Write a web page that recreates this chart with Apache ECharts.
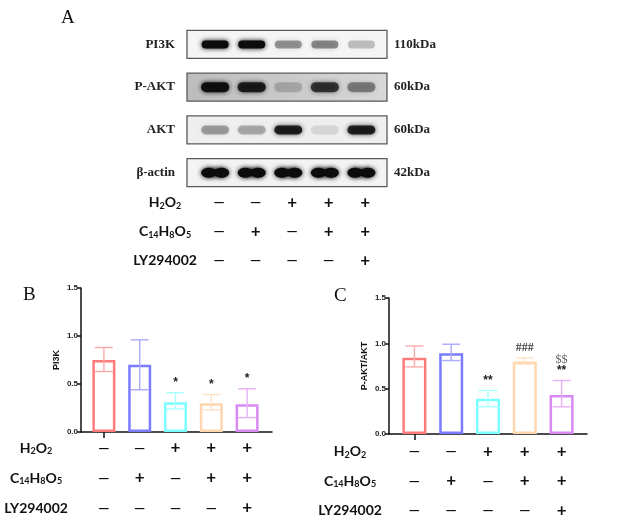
<!DOCTYPE html>
<html>
<head>
<meta charset="utf-8">
<title>PI3K / P-AKT western blot</title>
<script src="https://cdn.jsdelivr.net/npm/echarts@6.0.0/dist/echarts.min.js"></script>
<style>
    html, body { margin: 0; padding: 0; background: #fff; }
    #chart { width: 620px; height: 526px; }
</style>
</head>
<body>
<div id="chart"></div>
<script>
    // ---- data ----
    var lanes = [0, 1, 2, 3, 4];
    var proteins = ['PI3K', 'P-AKT', 'AKT', 'β-actin'];
    var kdaLabels = ['110kDa', '60kDa', '60kDa', '42kDa'];
    // band darkness per lane (0 = none, 1 = black)
    var bandPI3K = [1.0, 1.0, 0.38, 0.42, 0.22];
    var bandPAKT = [0.95, 0.85, 0.18, 0.72, 0.4];
    var bandAKT = [0.33, 0.28, 0.85, 0.1, 0.85];
    var bandActin = [1.0, 1.0, 1.0, 1.0, 1.0];

    var groups = ['Control', 'C14H8O5', 'H2O2', 'H2O2+C14H8O5', 'H2O2+C14H8O5+LY294002'];
    var treatments = ['H2O2', 'C14H8O5', 'LY294002'];
    var signH2O2 = ['—', '—', '+', '+', '+'];
    var signC14 = ['—', '+', '—', '+', '+'];
    var signLY = ['—', '—', '—', '—', '+'];

    var pi3kMean = [0.75, 0.70, 0.31, 0.30, 0.29];
    var pi3kLow = [0.63, 0.44, 0.24, 0.23, 0.15];
    var pi3kHigh = [0.88, 0.96, 0.41, 0.39, 0.45];
    var pi3kSig = ['', '', '*', '*', '*'];

    var paktMean = [0.84, 0.89, 0.39, 0.80, 0.43];
    var paktLow = [0.74, 0.81, 0.30, 0.77, 0.30];
    var paktHigh = [0.97, 0.99, 0.48, 0.84, 0.59];
    var paktSig = ['', '', '**', '###', '**'];
    var paktSig2 = ['', '', '', '', '$$'];

    // ---- styles ----
    var barColors = ['#ff7b7b', '#7b7bff', '#7bffff', '#ffd6ae', '#d98af2'];
    var errColors = ['#ffaaaa', '#aaaaff', '#a8ffff', '#ffe2c6', '#e6b0f7'];
    var bandW = [27, 28, 28, 26];
    var bandH = [8, 10, 9, 10];
    var boxFill = [
        '#f5f5f5',
        new echarts.graphic.LinearGradient(0, 0, 1, 0, [{offset: 0, color: '#bcbcbc'}, {offset: 1, color: '#d8d8d8'}]),
        '#efefef',
        '#f3f3f3'
    ];
    var serif = 'Liberation Serif';
    var sans = 'Liberation Sans';
    var tableFont = 'Lato';

    var treatRich = {
        'H2O2': '{b|H}{s|2}{b|O}{s|2}',
        'C14H8O5': '{b|C}{s|14}{b|H}{s|8}{b|O}{s|5}',
        'LY294002': '{b|LY294002}'
    };
    var richStyle = {
        b: {fontFamily: tableFont, fontWeight: 'bold', fontSize: 14, color: '#111', lineHeight: 16, verticalAlign: 'middle'},
        s: {fontFamily: tableFont, fontWeight: 'bold', fontSize: 9, color: '#111', verticalAlign: 'bottom'}
    };

    var chart = echarts.init(document.getElementById('chart'));

    // ---- helpers ----
    function bandData() {
        var out = [];
        [bandPI3K, bandPAKT, bandAKT, bandActin].forEach(function (row, p) {
            row.forEach(function (v, l) { out.push([lanes[l], p, v]); });
        });
        return out;
    }
    function signData() {
        var out = [];
        [signH2O2, signC14, signLY].forEach(function (row, r) {
            row.forEach(function (s, l) { out.push([l, r]); });
        });
        return out;
    }
    function signRender(params, api) {
        var c = api.coord([api.value(0), api.value(1)]);
        var r = Math.floor(params.dataIndex / 5), l = params.dataIndex % 5;
        var s = [signH2O2, signC14, signLY][r][l];
        return {
            type: 'text', x: c[0], y: c[1],
            style: {text: s, fill: '#111', fontFamily: tableFont, fontWeight: 'bold',
                fontSize: s === '+' ? 17 : 14, align: 'center', verticalAlign: 'middle'}
        };
    }
    function errRender(params, api) {
        var i = api.value(0);
        var lo = api.coord([i, api.value(1)]);
        var hi = api.coord([i, api.value(2)]);
        var st = {stroke: errColors[i], lineWidth: 1.4};
        var cap = 9;
        return {
            type: 'group', children: [
                {type: 'line', shape: {x1: hi[0], y1: hi[1], x2: lo[0], y2: lo[1]}, style: st},
                {type: 'line', shape: {x1: hi[0] - cap, y1: hi[1], x2: hi[0] + cap, y2: hi[1]}, style: st},
                {type: 'line', shape: {x1: lo[0] - cap, y1: lo[1], x2: lo[0] + cap, y2: lo[1]}, style: st}
            ]
        };
    }
    function sigRender(sigs, sigs2) {
        return function (params, api) {
            var i = params.dataIndex;
            var c = api.coord([api.value(0), api.value(1)]);
            var kids = [];
            if (sigs[i]) {
                var isHash = sigs[i].charAt(0) === '#';
                kids.push({type: 'text', x: c[0], y: c[1] - 4,
                    style: {text: sigs[i], fill: isHash ? '#444' : '#222', fontFamily: isHash ? serif : sans,
                        fontWeight: 'bold', fontSize: 12, align: 'center', verticalAlign: 'bottom'}});
            }
            if (sigs2 && sigs2[i]) {
                kids.push({type: 'text', x: c[0], y: c[1] - 15,
                    style: {text: sigs2[i], fill: '#666', fontFamily: serif,
                        fontSize: 12, align: 'center', verticalAlign: 'bottom'}});
            }
            return {type: 'group', children: kids};
        };
    }
    function barData(means) {
        return means.map(function (v, i) {
            return {value: v, itemStyle: {color: 'rgba(255,255,255,0)', borderColor: barColors[i], borderWidth: 2.5}};
        });
    }
    function errData(low, high) {
        return low.map(function (v, i) { return [i, v, high[i]]; });
    }
    function hidden(extra) {
        var o = {show: false};
        for (var k in extra) o[k] = extra[k];
        return o;
    }
    function treatAxis(grid, margin) {
        return {
            type: 'category', gridIndex: grid, data: treatments, inverse: true,
            axisLine: {show: false}, axisTick: {show: false},
            axisLabel: {margin: margin, align: 'center', formatter: function (v) { return treatRich[v]; }, rich: richStyle}
        };
    }
    function valueY(grid, name, gap) {
        return {
            type: 'value', gridIndex: grid, min: 0, max: 1.5, interval: 0.5,
            name: name, nameLocation: 'middle', nameGap: gap, nameRotate: 90,
            nameTextStyle: {fontFamily: sans, fontWeight: 'bold', fontSize: 9, color: '#111'},
            axisLine: {show: true, lineStyle: {color: '#111', width: 1.5}},
            axisTick: {show: true, length: 4, lineStyle: {color: '#111', width: 1.5}},
            axisLabel: {margin: 3, fontFamily: sans, fontWeight: 'bold', fontSize: 8, color: '#222',
                formatter: function (v) { return v.toFixed(1); }},
            splitLine: {show: false}
        };
    }
    function frameX(grid) {
        return {
            type: 'value', gridIndex: grid, min: 0, max: 1,
            axisLine: {show: true, onZero: false, lineStyle: {color: '#111', width: 1.5}},
            axisTick: {show: false}, axisLabel: {show: false}, splitLine: {show: false}
        };
    }
    function barX(grid) {
        return {
            type: 'category', gridIndex: grid, data: groups,
            axisLine: {show: false},
            axisTick: {show: true, alignWithLabel: true, length: 6, lineStyle: {color: '#111', width: 1.5}},
            axisLabel: {show: false}
        };
    }

    var option = {
        backgroundColor: '#fff',
        animation: false,
        title: [
            {text: 'A', left: 61, top: 9, padding: 0, textStyle: {fontFamily: serif, fontWeight: 'normal', fontSize: 19, color: '#111'}},
            {text: 'B', left: 23, top: 286, padding: 0, textStyle: {fontFamily: serif, fontWeight: 'normal', fontSize: 19, color: '#111'}},
            {text: 'C', left: 334, top: 287, padding: 0, textStyle: {fontFamily: serif, fontWeight: 'normal', fontSize: 19, color: '#111'}}
        ],
        grid: [
            {left: 187, top: 23, width: 200, height: 171},   // 0 blot
            {left: 187, top: 188, width: 200, height: 87},   // 1 table A
            {left: 81, top: 288, width: 191, height: 144},   // 2 frame B
            {left: 86, top: 288, width: 179, height: 144},   // 3 bars B
            {left: 86, top: 433, width: 179, height: 90},    // 4 table B
            {left: 389, top: 298, width: 198, height: 136},  // 5 frame C
            {left: 396, top: 298, width: 184, height: 136},  // 6 bars C
            {left: 396, top: 437, width: 184, height: 88}    // 7 table C
        ],
        xAxis: [
            hidden({type: 'value', gridIndex: 0, min: -0.77, max: 4.7}),
            hidden({type: 'value', gridIndex: 1, min: -0.88, max: 4.6}),
            frameX(2),
            barX(3),
            hidden({type: 'category', gridIndex: 4, data: groups}),
            frameX(5),
            barX(6),
            hidden({type: 'category', gridIndex: 7, data: groups})
        ],
        yAxis: [
            {type: 'category', gridIndex: 0, data: proteins, inverse: true,
                axisLine: {show: false}, axisTick: {show: false},
                axisLabel: {margin: 12, fontFamily: serif, fontWeight: 'bold', fontSize: 13, color: '#222'}},
            {type: 'category', gridIndex: 0, data: proteins, inverse: true, position: 'right',
                axisLine: {show: false}, axisTick: {show: false},
                axisLabel: {margin: 7, fontFamily: serif, fontWeight: 'bold', fontSize: 13, color: '#222',
                    padding: [0, 0, 5, 0],
                    formatter: function (v, i) { return kdaLabels[i]; }}},
            treatAxis(1, 22),
            valueY(2, 'PI3K', 20),
            hidden({type: 'value', gridIndex: 3, min: 0, max: 1.5}),
            treatAxis(4, 50),
            valueY(5, 'P-AKT/AKT', 20),
            hidden({type: 'value', gridIndex: 6, min: 0, max: 1.5}),
            treatAxis(7, 46)
        ],
        series: [
            // blot frames
            {
                type: 'custom', xAxisIndex: 0, yAxisIndex: 0, silent: true,
                data: proteins.map(function (p, i) { return [0, i]; }),
                renderItem: function (params, api) {
                    var c = api.coord([0, api.value(1)]);
                    var cs = params.coordSys;
                    return {type: 'rect', shape: {x: cs.x, y: c[1] - 14, width: cs.width, height: 28},
                        style: {fill: boxFill[params.dataIndex], stroke: '#5a5a5a', lineWidth: 1.3}};
                }
            },
            // blot bands (beta-actin drawn as a pinched double blob)
            {
                type: 'custom', xAxisIndex: 0, yAxisIndex: 0, silent: true, z: 3,
                data: bandData(),
                renderItem: function (params, api) {
                    var p = api.value(1), v = api.value(2);
                    var c = api.coord([api.value(0), p]);
                    var w = bandW[p], h = bandH[p];
                    var col = 'rgba(12,12,12,' + v + ')';
                    var st = {fill: col, shadowBlur: 5, shadowColor: col};
                    if (p === 3) {
                        return {type: 'group', children: [
                            {type: 'ellipse', shape: {cx: c[0] - w / 4, cy: c[1], rx: w / 4 + 1, ry: h / 2}, style: st},
                            {type: 'ellipse', shape: {cx: c[0] + w / 4, cy: c[1], rx: w / 4 + 1, ry: h / 2}, style: st},
                            {type: 'rect', shape: {x: c[0] - w / 4, y: c[1] - h / 3, width: w / 2, height: h * 2 / 3}, style: st}
                        ]};
                    }
                    return {type: 'rect', shape: {x: c[0] - w / 2, y: c[1] - h / 2, width: w, height: h, r: h / 2}, style: st};
                }
            },
            // table A
            {type: 'custom', xAxisIndex: 1, yAxisIndex: 2, silent: true, data: signData(), renderItem: signRender},
            // chart B
            {type: 'bar', xAxisIndex: 3, yAxisIndex: 4, barWidth: 23, data: barData(pi3kMean)},
            {type: 'custom', xAxisIndex: 3, yAxisIndex: 4, z: 3, data: errData(pi3kLow, pi3kHigh), renderItem: errRender},
            {type: 'custom', xAxisIndex: 3, yAxisIndex: 4, z: 4, data: errData(pi3kLow, pi3kHigh).map(function (d) { return [d[0], d[2]]; }),
                renderItem: sigRender(pi3kSig)},
            {type: 'custom', xAxisIndex: 4, yAxisIndex: 5, silent: true, data: signData(), renderItem: signRender},
            // chart C
            {type: 'bar', xAxisIndex: 6, yAxisIndex: 7, barWidth: 24, data: barData(paktMean)},
            {type: 'custom', xAxisIndex: 6, yAxisIndex: 7, z: 3, data: errData(paktLow, paktHigh), renderItem: errRender},
            {type: 'custom', xAxisIndex: 6, yAxisIndex: 7, z: 4, data: errData(paktLow, paktHigh).map(function (d) { return [d[0], d[2]]; }),
                renderItem: sigRender(paktSig, paktSig2)},
            {type: 'custom', xAxisIndex: 7, yAxisIndex: 8, silent: true, data: signData(), renderItem: signRender}
        ]
    };
    chart.setOption(option);
</script>
</body>
</html>
